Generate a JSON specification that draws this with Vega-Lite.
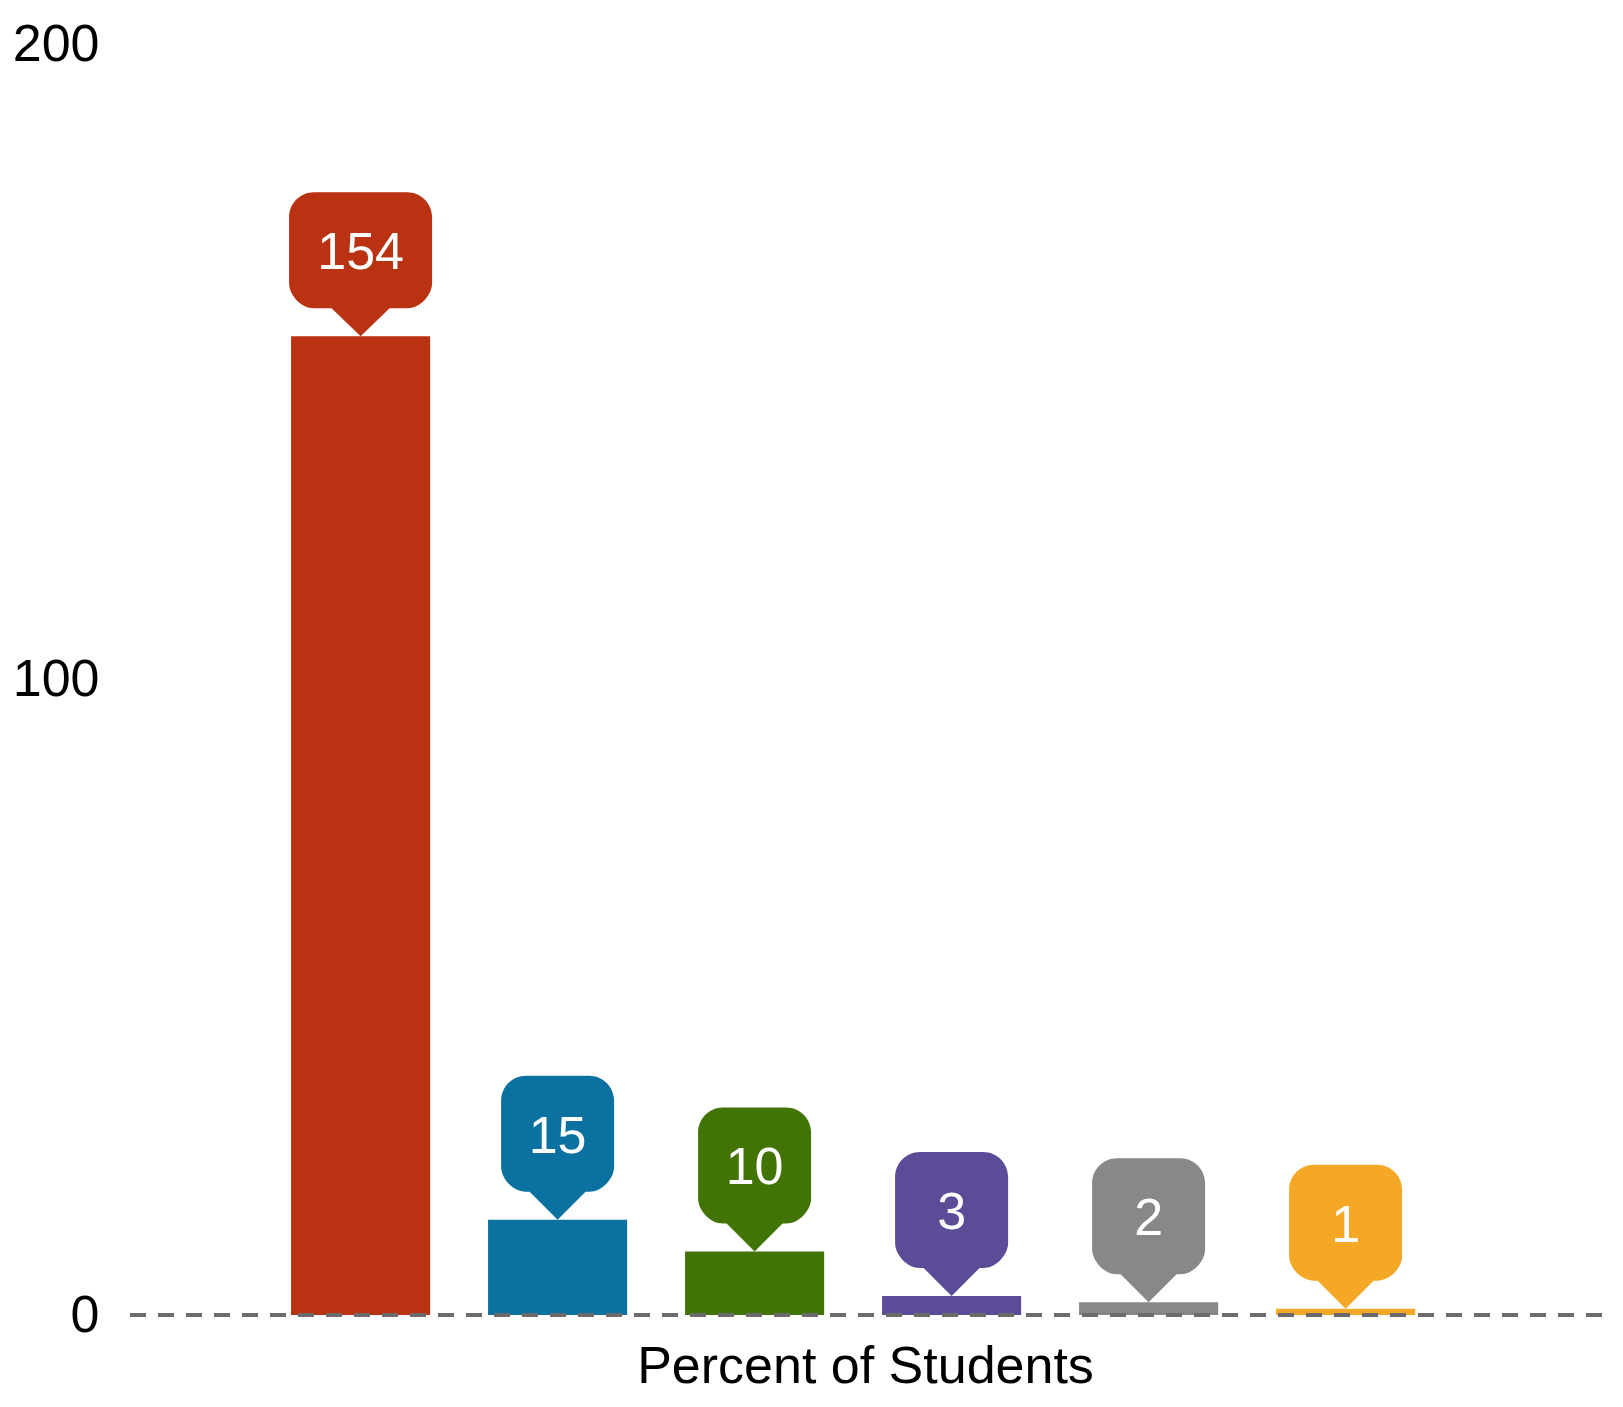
{
  "$schema": "https://vega.github.io/schema/vega-lite/v6.json",
  "width": 1474,
  "height": 1271,
  "autosize": {"type": "none"},
  "padding": {"left": 128, "top": 44, "right": 21, "bottom": 92},
  "background": "white",
  "config": {"view": {"stroke": null}, "font": "Liberation Sans"},
  "data": {"values": [
    {"group": "A", "count": 154},
    {"group": "B", "count": 15},
    {"group": "C", "count": 10},
    {"group": "D", "count": 3},
    {"group": "E", "count": 2},
    {"group": "F", "count": 1}
  ]},
  "layer": [
    {
      "encoding": {
        "x": {"field": "group", "type": "nominal", "sort": null,
          "scale": {"paddingInner": 0.294, "paddingOuter": 0.888, "align": 0.466},
          "axis": {"title": "Percent of Students", "labels": false, "ticks": false, "domain": false, "grid": false,
            "titleFontSize": 52, "titleFont": "Liberation Sans", "titleFontWeight": "normal", "titleColor": "black", "titlePadding": 26}},
        "y": {"field": "count", "type": "quantitative", "scale": {"domain": [0, 200], "nice": false},
          "axis": {"values": [0, 100, 200], "title": null, "domain": false, "ticks": false, "tickSize": 0, "grid": false,
            "labelFontSize": 52, "labelFont": "Liberation Sans", "labelColor": "black", "labelPadding": 29, "labelFlush": false}},
        "color": {"field": "group", "type": "nominal", "sort": null,
          "scale": {"range": ["#B93312", "#0A71A1", "#427305", "#5C4B97", "#888888", "#F4A826"]}, "legend": null}
      },
      "layer": [
        {"mark": {"type": "bar"}},
        {"mark": {"type": "point", "filled": true, "opacity": 1, "size": 40000, "strokeWidth": 0},
          "encoding": {"shape": {"condition": {"test": "datum.count >= 100", "value": "M0,0 L-0.29,-0.28 L-0.465,-0.28 C-0.603,-0.28 -0.715,-0.418 -0.715,-0.53 L-0.715,-1.19 C-0.715,-1.328 -0.603,-1.44 -0.465,-1.44 L0.465,-1.44 C0.603,-1.44 0.715,-1.328 0.715,-1.19 L0.715,-0.53 C0.715,-0.418 0.603,-0.28 0.465,-0.28 L0.29,-0.28 Z"},
            "value": "M0,0 L-0.28,-0.28 L-0.315,-0.28 C-0.453,-0.28 -0.565,-0.418 -0.565,-0.53 L-0.565,-1.19 C-0.565,-1.328 -0.453,-1.44 -0.315,-1.44 L0.315,-1.44 C0.453,-1.44 0.565,-1.328 0.565,-1.19 L0.565,-0.53 C0.565,-0.418 0.453,-0.28 0.315,-0.28 L0.28,-0.28 Z"}}},
        {"mark": {"type": "text", "fontSize": 52, "font": "Liberation Sans", "baseline": "middle", "align": "center", "dy": -83},
          "encoding": {"text": {"field": "count", "type": "quantitative"}, "color": {"value": "white"}}}
      ]
    },
    {
      "mark": {"type": "rule", "strokeDash": [16, 12], "strokeWidth": 4, "color": "#6b6b6b"},
      "encoding": {"y": {"datum": 0, "type": "quantitative"}}
    }
  ]
}
